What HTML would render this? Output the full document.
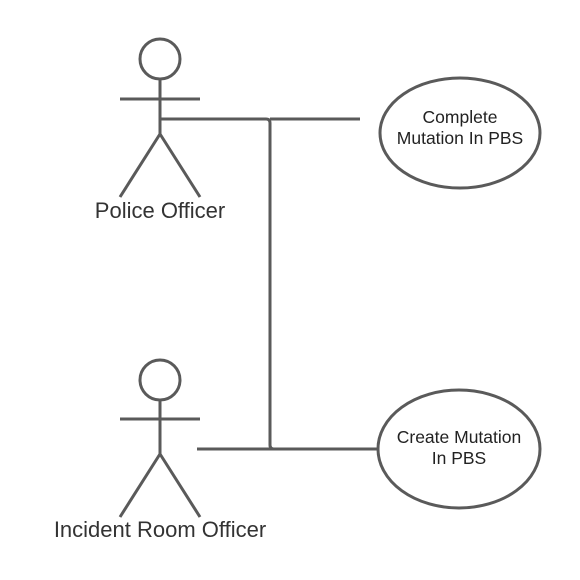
<!DOCTYPE html>
<html><head><style>body{margin:0;background:#fff}svg{display:block}</style></head><body>
<svg width="580" height="580" xmlns="http://www.w3.org/2000/svg" font-family="Liberation Sans, sans-serif">
<g stroke="#5a5a5a" stroke-width="3" fill="none">
<circle cx="160" cy="59" r="20"/>
<line x1="120" y1="99" x2="200" y2="99"/>
<line x1="160" y1="79" x2="160" y2="134"/>
<polyline points="120,197 160,134 200,197"/>
<circle cx="160" cy="380" r="20"/>
<line x1="120" y1="419" x2="200" y2="419"/>
<line x1="160" y1="400" x2="160" y2="454"/>
<polyline points="120,517 160,454 200,517"/>
<path d="M160,119 H266 Q270,119 270,123 V445 Q270,449 274,449 H378"/>
<line x1="270" y1="119" x2="360" y2="119"/>
<line x1="197" y1="449" x2="274" y2="449"/>
<ellipse cx="460" cy="133" rx="80" ry="55"/>
<ellipse cx="459" cy="449" rx="81" ry="59"/>
</g>
<g fill="#222" text-anchor="middle" font-size="17.5">
<text x="460" y="123">Complete</text>
<text x="460" y="144">Mutation In PBS</text>
<text x="459" y="443">Create Mutation</text>
<text x="459" y="464">In PBS</text>
</g>
<g fill="#333" text-anchor="middle" font-size="22">
<text x="160" y="218">Police Officer</text>
<text x="160" y="537">Incident Room Officer</text>
</g>
</svg>
</body></html>
